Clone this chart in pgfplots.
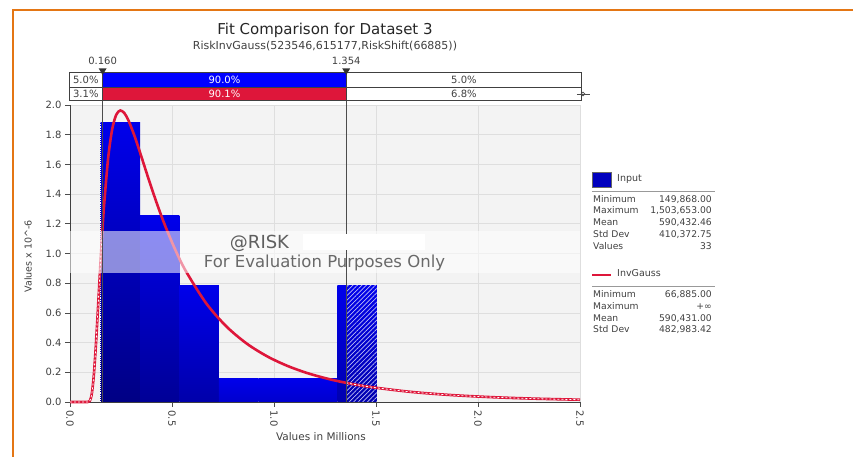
\documentclass[border=0pt]{standalone}
\usepackage{fontspec}
\setmainfont{DejaVu Sans}
\usepackage{pgfplots}
\pgfplotsset{compat=1.18}
\usetikzlibrary{patterns.meta}
\definecolor{crim}{RGB}{222,22,58}
\definecolor{bgray}{RGB}{243,243,243}
\definecolor{ggray}{RGB}{222,222,222}
\definecolor{orng}{RGB}{228,118,20}
\definecolor{txt}{RGB}{64,64,64}
\definecolor{wm}{RGB}{105,105,105}
\definecolor{topb}{RGB}{0,0,235}
\definecolor{bot1}{RGB}{0,0,132}
\definecolor{bot2}{RGB}{0,0,150}
\definecolor{bot3}{RGB}{0,0,170}
\definecolor{bot4}{RGB}{0,0,205}
\definecolor{bot7}{RGB}{0,0,175}
\definecolor{hatch}{RGB}{190,190,245}
\definecolor{legb}{RGB}{0,0,190}
\newcommand{\fs}[1]{\fontsize{#1}{#1}\selectfont}
\begin{document}
\begin{tikzpicture}[x=1pt,y=1pt]
\path[use as bounding box] (0,0) rectangle (853,457);
\draw[orng, line width=2pt] (13,0) -- (13,447) -- (853,447);
\node[anchor=base, font=\fs{15}, text=black!85] at (325,422.7) {Fit Comparison for Dataset 3};
\node[anchor=base, font=\fs{11}, text=txt] at (325,407) {RiskInvGauss(523546,615177,RiskShift(66885))};
\begin{axis}[
  at={(70pt,55pt)}, anchor=south west, scale only axis,
  width=510pt, height=297pt,
  xmin=0, xmax=2.5, ymin=0, ymax=2.0,
  clip=false,
  axis background/.style={fill=bgray, draw=black!22},
  axis lines*=left,
  axis line style={black!75, line width=0.8pt},
  tick align=outside,
  major tick length=5pt,
  tick style={black!70, line width=0.6pt},
  xtick={0,0.5,1,1.5,2,2.5},
  ytick={0,0.2,0.4,0.6,0.8,1.0,1.2,1.4,1.6,1.8,2.0},
  grid=major,
  major grid style={ggray, line width=0.7pt},
  /pgf/number format/assume math mode=true,
  /pgf/number format/fixed,
  /pgf/number format/fixed zerofill,
  /pgf/number format/precision=1,
  ticklabel style={font=\fs{10}, text=txt},
  xticklabel style={rotate=-90, anchor=west},
  xlabel={Values in Millions},
  ylabel={Values x 10\textasciicircum-6},
  xlabel style={at={(axis description cs:0.492,-0.118)}, anchor=center, font=\fs{10.5}, text=txt},
  ylabel style={at={(axis description cs:-0.082,0.49)}, anchor=center, font=\fs{9.5}, text=txt},
]
% histogram bars (33 values, 7 bins)
\addplot[draw=none, top color=topb, bottom color=bot1] coordinates {(0.149868,0) (0.149868,1.8802) (0.343270,1.8802) (0.343270,0)};
\addplot[draw=none, top color=topb, bottom color=bot2] coordinates {(0.343270,0) (0.343270,1.2535) (0.536672,1.2535) (0.536672,0)};
\addplot[draw=none, top color=topb, bottom color=bot3] coordinates {(0.536672,0) (0.536672,0.7834) (0.730074,0.7834) (0.730074,0)};
\addplot[draw=none, top color=topb, bottom color=bot4] coordinates {(0.730074,0) (0.730074,0.1567) (0.923476,0.1567) (0.923476,0)};
\addplot[draw=none, top color=topb, bottom color=bot4] coordinates {(0.923476,0) (0.923476,0.1567) (1.116878,0.1567) (1.116878,0)};
\addplot[draw=none, top color=topb, bottom color=bot4] coordinates {(1.116878,0) (1.116878,0.1567) (1.310280,0.1567) (1.310280,0)};
\addplot[draw=none, top color=topb, bottom color=bot7] coordinates {(1.310280,0) (1.310280,0.7834) (1.503682,0.7834) (1.503682,0)};
\addplot[draw=none, pattern={Lines[angle=45,distance=3.2pt,line width=0.7pt]}, pattern color=hatch] coordinates {(1.354,0) (1.354,0.7834) (1.503682,0.7834) (1.503682,0)};
\addplot[white, densely dotted, line width=0.9pt] coordinates {(0.1515,0) (0.1515,1.8802)};
% fitted InvGauss density
\addplot[crim, line width=2.6pt, smooth] coordinates {
(0,0) (0.0669,0) (0.0769,0) (0.0869,0.0001) (0.0969,0.0067) (0.1069,0.0554) (0.1169,0.1825) (0.1269,0.3827) (0.1369,0.6246) (0.1469,0.8755) (0.1569,1.1123) (0.1600,1.1808) (0.1669,1.3217) (0.1869,1.6416) (0.2069,1.8370) (0.2269,1.9349) (0.2469,1.9631) (0.2669,1.9444) (0.2869,1.8952) (0.3169,1.7891) (0.3469,1.6651) (0.3869,1.4948) (0.4269,1.3328) (0.4669,1.1850) (0.5169,1.0227) (0.5669,0.8839) (0.6669,0.6659) (0.7669,0.5083) (0.8669,0.3928) (0.9669,0.3071) (1.0669,0.2425) (1.1669,0.1932) (1.2669,0.1552) (1.3540,0.1289) (1.4669,0.1021) (1.6669,0.0686) (1.8669,0.0469) (2.0669,0.0326) (2.2669,0.0229) (2.5,0.0153)};
\addplot[white, line width=0.8pt, dash pattern=on 2pt off 2pt, smooth] coordinates {
(0,0) (0.0669,0) (0.0769,0) (0.0869,0.0001) (0.0969,0.0067) (0.1069,0.0554) (0.1169,0.1825) (0.1269,0.3827) (0.1369,0.6246) (0.1469,0.8755) (0.1569,1.1123) (0.1600,1.1808)};
\addplot[white, line width=0.8pt, dash pattern=on 2pt off 2pt, smooth] coordinates {
(1.3540,0.1289) (1.4669,0.1021) (1.6669,0.0686) (1.8669,0.0469) (2.0669,0.0326) (2.2669,0.0229) (2.5,0.0153)};
% watermark band
\fill[white, opacity=0.55] (axis cs:0,0.867) rectangle (axis cs:2.5,1.150);
% delimiter lines
\draw[black!70, line width=0.8pt] (axis cs:0.160,0) -- (axis cs:0.160,2.2222);
\draw[black!70, line width=0.8pt] (axis cs:1.354,0) -- (axis cs:1.354,2.2222);
\fill[white] (axis cs:1.140,1.024) rectangle (axis cs:1.740,1.128);
\node[anchor=base, font=\fs{18}, text=wm!90!black] at (axis cs:0.929,1.035) {@RISK};
\node[anchor=base, font=\fs{16.5}, text=wm] at (axis cs:1.2475,0.9044) {For Evaluation Purposes Only};
% delimiter bars
\fill[white] (axis cs:-0.0049,2.0290) rectangle (axis cs:2.5083,2.2222);
\fill[blue] (axis cs:0.160,2.1192) rectangle (axis cs:1.354,2.2222);
\fill[crim] (axis cs:0.160,2.0290) rectangle (axis cs:1.354,2.1192);
\draw[black!75, line width=0.8pt] (axis cs:-0.0049,2.0290) rectangle (axis cs:2.5083,2.2222);
\draw[black!75, line width=0.8pt] (axis cs:-0.0049,2.1192) -- (axis cs:2.5083,2.1192);
\draw[black!75, line width=0.8pt] (axis cs:0.160,2.0290) -- (axis cs:0.160,2.2222);
\draw[black!75, line width=0.8pt] (axis cs:1.354,2.0290) -- (axis cs:1.354,2.2222);
\fill[black!80] (axis cs:0.1404,2.2471) -- (axis cs:0.1796,2.2471) -- (axis cs:0.160,2.2020) -- cycle;
\fill[black!80] (axis cs:1.3344,2.2471) -- (axis cs:1.3736,2.2471) -- (axis cs:1.354,2.2020) -- cycle;
\node[anchor=base, font=\fs{10}, text=txt] at (axis cs:0.160,2.2694) {0.160};
\node[anchor=base, font=\fs{10}, text=txt] at (axis cs:1.354,2.2694) {1.354};
\node[font=\fs{10}, text=txt] at (axis cs:0.0776,2.1707) {5.0\%};
\node[font=\fs{10}, text=white] at (axis cs:0.757,2.1707) {90.0\%};
\node[font=\fs{10}, text=txt] at (axis cs:1.931,2.1707) {5.0\%};
\node[font=\fs{10}, text=txt] at (axis cs:0.0776,2.0741) {3.1\%};
\node[font=\fs{10}, text=white] at (axis cs:0.757,2.0741) {90.1\%};
\node[font=\fs{10}, text=txt] at (axis cs:1.931,2.0741) {6.8\%};
\draw[black!70, line width=0.7pt] (axis cs:2.485,2.0741) -- (axis cs:2.55,2.0741);
\draw[black!70, line width=0.7pt] (axis cs:2.5147,2.0741) circle (1.8pt);
\end{axis}
% legend / statistics
\fill[legb] (592,270) rectangle (611,285);
\draw[black!60, line width=0.4pt] (592,270) rectangle (611,285);
\node[anchor=mid west, font=\fs{9.5}, text=txt, inner sep=0pt] at (617,278) {Input};
\draw[black!40, line width=0.8pt] (592,266) -- (715,266);
\foreach \y/\a/\b in {257.7/Minimum/{149,868.00}, 246/Maximum/{1,503,653.00}, 234.3/Mean/{590,432.46}, 222.7/Std Dev/{410,372.75}, 210.7/Values/33}{
  \node[anchor=mid west, font=\fs{9.2}, text=txt, inner sep=0pt] at (593,\y) {\a};
  \node[anchor=mid east, font=\fs{9.2}, text=txt, inner sep=0pt] at (712,\y) {\b};
}
\draw[crim, line width=2.6pt] (592,182) -- (611,182);
\node[anchor=mid west, font=\fs{9.5}, text=txt, inner sep=0pt] at (617,183) {InvGauss};
\draw[black!40, line width=0.8pt] (592,170.3) -- (715,170.3);
\foreach \y/\a/\b in {162.3/Minimum/{66,885.00}, 150.3/Maximum/{+∞}, 138.7/Mean/{590,431.00}, 127/Std Dev/{482,983.42}}{
  \node[anchor=mid west, font=\fs{9.2}, text=txt, inner sep=0pt] at (593,\y) {\a};
  \node[anchor=mid east, font=\fs{9.2}, text=txt, inner sep=0pt] at (712,\y) {\b};
}
\end{tikzpicture}
\end{document}
